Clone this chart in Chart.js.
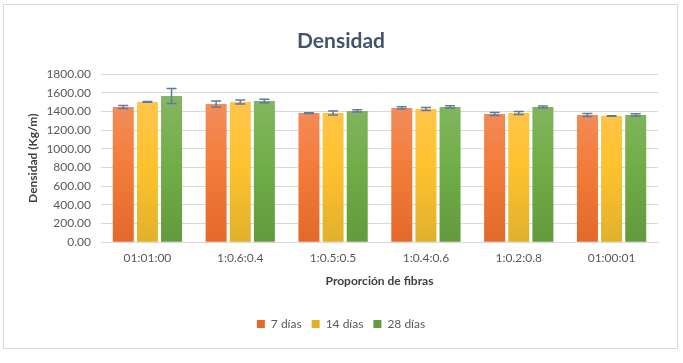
<!DOCTYPE html>
<html>
<head>
<meta charset="utf-8">
<script src="https://cdn.jsdelivr.net/npm/chart.js@4.4.0/dist/chart.umd.min.js"></script>
<style>
  body { margin: 0; background: #fff; }
  #wrap { position: relative; width: 683px; height: 363px; }
  #frame { position: absolute; left: 3px; top: 4px; width: 673px; height: 343px; border: 1px solid #d9d9d9; }
  canvas { position: absolute; left: 0; top: 0; }
</style>
</head>
<body>
<div id="wrap">
  <div id="frame"></div>
  <canvas id="myChart" width="683" height="363"></canvas>
</div>
<script>
// datos
var categorias = ['01:01:00', '1:0.6:0.4', '1:0.5:0.5', '1:0.4:0.6', '1:0.2:0.8', '01:00:01'];
var dias7 = [1449, 1481, 1384, 1438, 1374, 1363];
var dias14 = [1503, 1503, 1384, 1427, 1384, 1352];
var dias28 = [1567, 1513, 1406, 1449, 1449, 1363];
var err7 = [16, 32, 4, 12, 16, 16];
var err14 = [4, 21, 21, 17, 17, 3];
var err28 = [80, 18, 12, 12, 11, 12];

function grad(top, mid, bot) {
  return function(c) {
    var area = c.chart.chartArea;
    if (!area) return mid;
    var g = c.chart.ctx.createLinearGradient(0, area.top, 0, area.bottom);
    g.addColorStop(0, top);
    g.addColorStop(0.55, mid);
    g.addColorStop(1, bot);
    return g;
  };
}

// barras de error
var errorBars = {
  id: 'errorBars',
  afterDatasetsDraw: function(chart) {
    var ctx = chart.ctx;
    var y = chart.scales.y;
    ctx.save();
    ctx.strokeStyle = '#62799c';
    ctx.lineWidth = 1.5;
    chart.data.datasets.forEach(function(ds, i) {
      var meta = chart.getDatasetMeta(i);
      meta.data.forEach(function(bar, j) {
        var v = ds.data[j], e = ds.errores[j];
        var y1 = y.getPixelForValue(v + e), y2 = y.getPixelForValue(v - e);
        ctx.beginPath();
        ctx.moveTo(bar.x, y1); ctx.lineTo(bar.x, y2);
        ctx.moveTo(bar.x - 5, y1); ctx.lineTo(bar.x + 5, y1);
        ctx.moveTo(bar.x - 5, y2); ctx.lineTo(bar.x + 5, y2);
        ctx.stroke();
      });
    });
    ctx.restore();
  }
};

var ctx = document.getElementById('myChart').getContext('2d');
var chart = new Chart(ctx, {
  type: 'bar',
  data: {
    labels: categorias,
    datasets: [
      { label: '7 días', data: dias7, errores: err7, backgroundColor: grad('#f1956c', '#f47c3a', '#e2692a') },
      { label: '14 días', data: dias14, errores: err14, backgroundColor: grad('#ffc65a', '#ffc22e', '#e0b02c') },
      { label: '28 días', data: dias28, errores: err28, backgroundColor: grad('#8bb96b', '#70ad47', '#629a3d') }
    ]
  },
  options: {
    responsive: false,
    animation: false,
    datasets: { bar: { categoryPercentage: 0.78, barPercentage: 0.87 } },
    layout: { padding: { left: 24, right: 25, top: 29, bottom: 23 } },
    plugins: {
      title: {
        display: true,
        text: 'Densidad',
        color: '#44546a',
        font: { family: 'Lato', size: 21, weight: 'bold' },
        padding: { top: 0, bottom: 20 }
      },
      legend: {
        position: 'bottom',
        labels: {
          boxWidth: 8, boxHeight: 8,
          color: '#595959',
          font: { family: 'Lato', size: 12 }
        }
      },
      tooltip: { enabled: false }
    },
    scales: {
      x: {
        grid: { display: false },
        border: { color: '#d9d9d9' },
        ticks: { color: '#595959', font: { family: 'Lato', size: 12 }, padding: 1 },
        title: {
          display: true,
          text: 'Proporción de fibras',
          color: '#404040',
          font: { family: 'Lato', size: 12, weight: 'bold' },
          padding: { top: 7, bottom: 20 }
        }
      },
      y: {
        min: 0, max: 1800,
        afterFit: function(scale) { scale.width = 77; },
        ticks: {
          stepSize: 200,
          color: '#595959',
          font: { family: 'Lato', size: 12 },
          padding: 10,
          callback: function(v) { return v.toFixed(2); }
        },
        grid: { color: '#d9d9d9', drawTicks: false },
        border: { display: false },
        title: {
          display: true,
          text: 'Densidad (Kg/m)',
          color: '#404040',
          font: { family: 'Lato', size: 12, weight: 'bold' },
          padding: { top: 2, bottom: 0 }
        }
      }
    }
  },
  plugins: [errorBars]
});
</script>
</body>
</html>
